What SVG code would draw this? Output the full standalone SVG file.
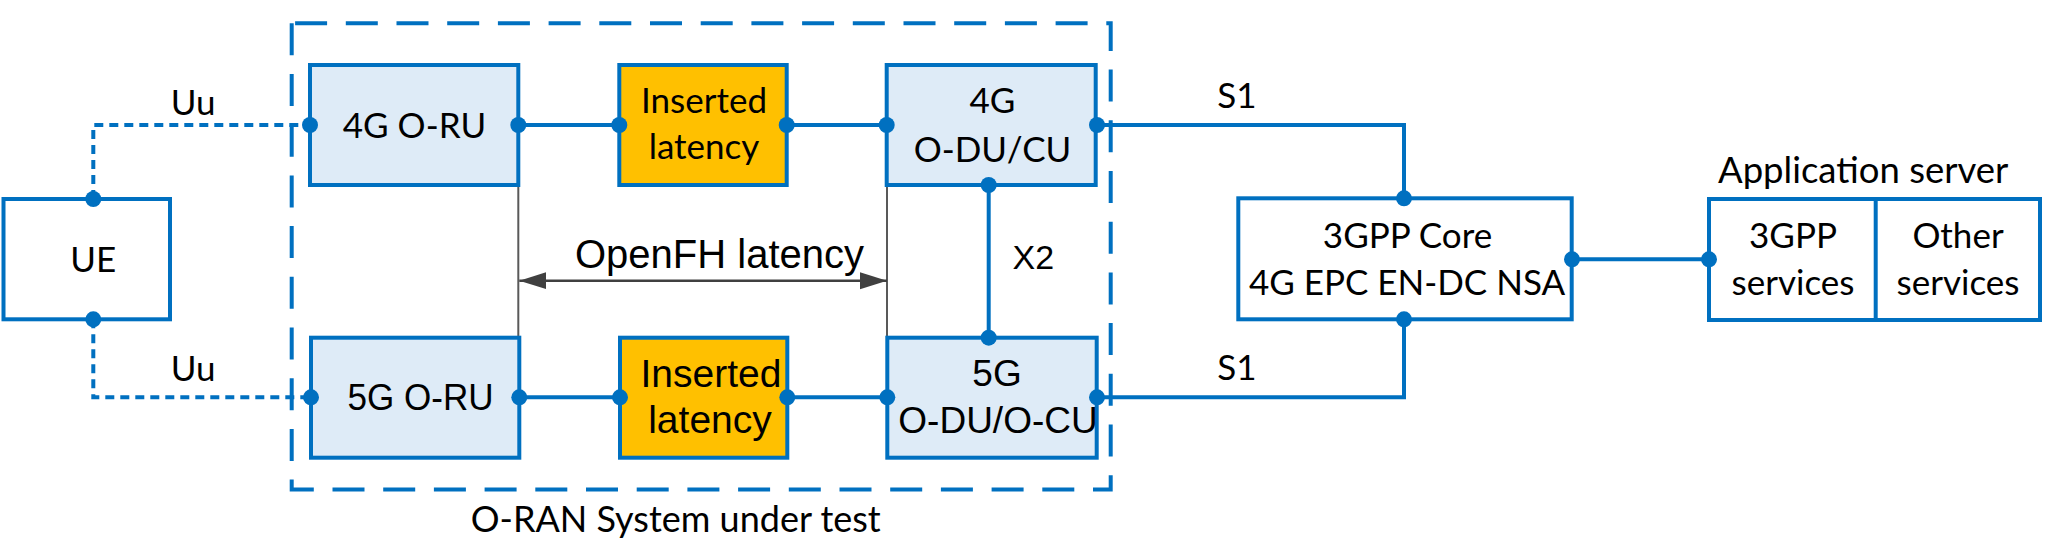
<svg xmlns="http://www.w3.org/2000/svg" width="2048" height="547" viewBox="0 0 2048 547">
<style>
.box{stroke:#0070C0;stroke-width:4;fill:#FFFFFF}
.lb{fill:#DEEBF7}
.or{fill:#FFC000}
.ln{stroke:#0070C0;stroke-width:4;fill:none}
.dot{stroke:#0070C0;stroke-width:4;fill:none;stroke-dasharray:9 6}
.dash{stroke:#0070C0;stroke-width:4;fill:none;stroke-dasharray:32 18.7}
.gr{stroke:#595959;stroke-width:2;fill:none}
.ar{stroke:#404040;stroke-width:2.5;fill:none}
.pt{fill:#0070C0}
.c{font-family:Lato,"Open Sans",sans-serif;font-size:35px;fill:#000}
.a{font-family:"Liberation Sans",Arial,sans-serif;fill:#000}
</style>
<defs>
<marker id="ah" markerUnits="userSpaceOnUse" markerWidth="28" markerHeight="18" refX="27" refY="9" orient="auto-start-reverse" viewBox="0 0 28 18">
<path d="M0,0.5 L27,9 L0,17.5 Z" fill="#404040"/>
</marker>
</defs>

<g id="system-boundary">
<path class="dash" d="M291.7,23.3 V489.5 H1110.7 V23.3 Z"/>
<text class="c" x="470.7" y="531.7" style="font-size:36px">O-RAN System under test</text>
</g>

<g id="connectors">
<path class="dot" d="M93.3,199 V125 H310"/>
<path class="dot" d="M93.3,319.3 V397.3 H311"/>
<path class="ln" d="M518.3,125 H619.3"/>
<path class="ln" d="M786.7,125 H886.7"/>
<path class="ln" d="M519.3,397.3 H620"/>
<path class="ln" d="M787.3,397.3 H887.3"/>
<path class="ln" d="M988.7,185 V337.7"/>
<path class="ln" d="M1097,125 H1404 V198.3"/>
<path class="ln" d="M1097,397.3 H1404 V319.3"/>
<path class="ln" d="M1572,259.3 H1709"/>
<path class="gr" d="M518.3,185 V337.7"/>
<path class="gr" d="M887,185 V337.7"/>
<path class="ar" d="M519.3,280.7 H887" marker-start="url(#ah)" marker-end="url(#ah)"/>
<text class="c" x="170.7" y="115">Uu</text>
<text class="c" x="170.7" y="380.7">Uu</text>
<text class="c" x="1217.3" y="108.3">S1</text>
<text class="c" x="1217.3" y="380">S1</text>
<text class="a" x="1012.6" y="269" style="font-size:34px">X2</text>
<text class="a" x="575" y="268" style="font-size:40px">OpenFH latency</text>
</g>

<g id="ue">
<rect class="box" x="3.5" y="199" width="166.5" height="120.3"/>
<text class="c" x="93.3" y="272" text-anchor="middle">UE</text>
</g>

<g id="ru4g">
<rect class="box lb" x="310" y="65" width="208.3" height="120"/>
<text class="c" x="414.5" y="137.5" text-anchor="middle">4G O-RU</text>
</g>

<g id="lat4g">
<rect class="box or" x="619.3" y="65" width="167.4" height="120"/>
<text class="c" x="704" y="113.3" text-anchor="middle">Inserted</text>
<text class="c" x="704" y="159.3" text-anchor="middle">latency</text>
</g>

<g id="du4g">
<rect class="box lb" x="886.7" y="65" width="209" height="120"/>
<text class="c" x="992.5" y="113.3" text-anchor="middle">4G</text>
<text class="c" x="992.5" y="161.7" text-anchor="middle">O-DU/CU</text>
</g>

<g id="ru5g">
<rect class="box lb" x="311" y="337.7" width="208.3" height="120"/>
<text class="a" x="420.5" y="410" text-anchor="middle" style="font-size:37px" textLength="146" lengthAdjust="spacingAndGlyphs">5G O-RU</text>
</g>

<g id="lat5g">
<rect class="box or" x="620" y="337.7" width="167.3" height="120"/>
<text class="a" x="711" y="386.7" text-anchor="middle" style="font-size:39px">Inserted</text>
<text class="a" x="710" y="432.7" text-anchor="middle" style="font-size:39px">latency</text>
</g>

<g id="du5g">
<rect class="box lb" x="887.3" y="337.7" width="209.4" height="120"/>
<text class="a" x="997" y="386" text-anchor="middle" style="font-size:37px">5G</text>
<text class="a" x="998" y="433.3" text-anchor="middle" style="font-size:37px">O-DU/O-CU</text>
</g>

<g id="core">
<rect class="box" x="1238.3" y="198.3" width="333.4" height="121"/>
<text class="c" x="1407.5" y="248.3" text-anchor="middle">3GPP Core</text>
<text class="c" x="1407" y="295" text-anchor="middle">4G EPC EN-DC NSA</text>
</g>

<g id="app-server">
<text class="c" x="1718" y="183" style="font-size:36.5px">Application server</text>
<rect class="box" x="1709" y="199" width="331" height="121"/>
<path class="ln" d="M1875.7,199 V320"/>
<text class="c" x="1793" y="248" text-anchor="middle">3GPP</text>
<text class="c" x="1793" y="295" text-anchor="middle">services</text>
<text class="c" x="1958" y="248" text-anchor="middle">Other</text>
<text class="c" x="1958" y="295" text-anchor="middle">services</text>
</g>

<g id="ports">
<circle class="pt" cx="93.3" cy="199" r="8"/>
<circle class="pt" cx="93.3" cy="319.3" r="8"/>
<circle class="pt" cx="310" cy="125" r="8"/>
<circle class="pt" cx="518.3" cy="125" r="8"/>
<circle class="pt" cx="619.3" cy="125" r="8"/>
<circle class="pt" cx="786.7" cy="125" r="8"/>
<circle class="pt" cx="886.7" cy="125" r="8"/>
<circle class="pt" cx="1097" cy="125" r="8"/>
<circle class="pt" cx="988.7" cy="185" r="8"/>
<circle class="pt" cx="311" cy="397.3" r="8"/>
<circle class="pt" cx="519.3" cy="397.3" r="8"/>
<circle class="pt" cx="620" cy="397.3" r="8"/>
<circle class="pt" cx="787.3" cy="397.3" r="8"/>
<circle class="pt" cx="887.3" cy="397.3" r="8"/>
<circle class="pt" cx="1097" cy="397.3" r="8"/>
<circle class="pt" cx="988.7" cy="337.7" r="8"/>
<circle class="pt" cx="1404" cy="198.3" r="8"/>
<circle class="pt" cx="1404" cy="319.3" r="8"/>
<circle class="pt" cx="1572" cy="259.3" r="8"/>
<circle class="pt" cx="1709" cy="259.3" r="8"/>
</g>
</svg>
